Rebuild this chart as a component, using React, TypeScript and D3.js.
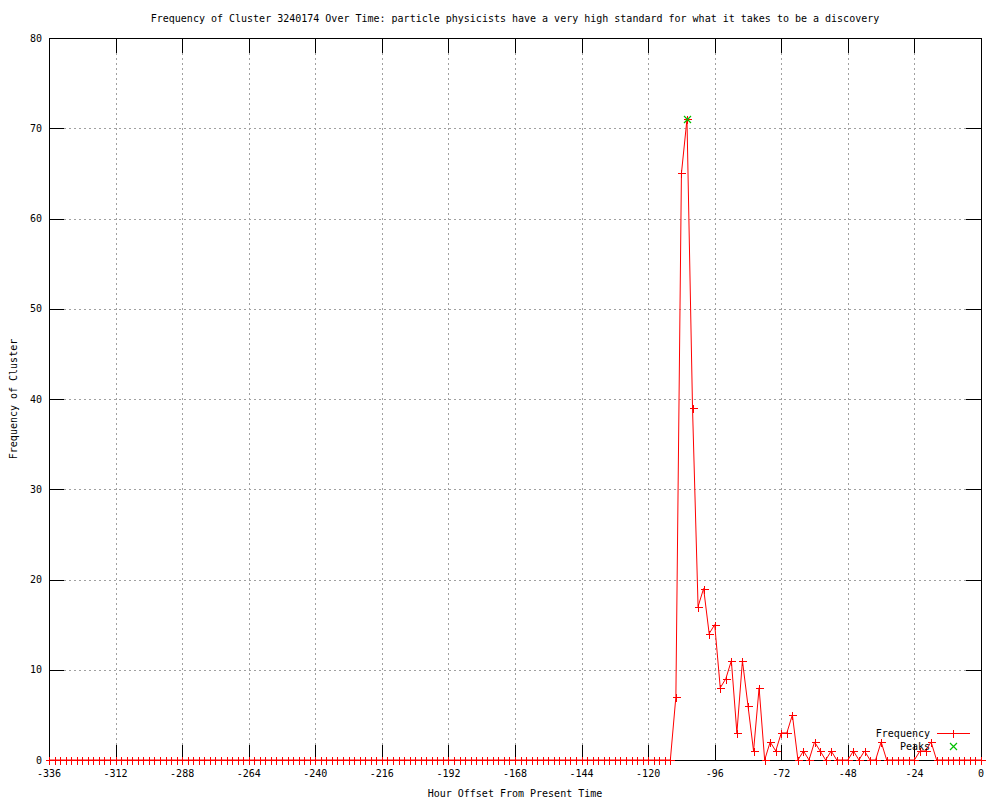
import React, { useEffect, useRef } from 'react';
import * as d3 from 'd3';

// hour offsets, one point every 2 hours from -336 to 0
const hours: number[] = d3.range(-336, 1, 2);

// frequency per point
const frequency: number[] = [
  0, 0, 0, 0, 0, 0, 0, 0, 0, 0, 0, 0, 0, 0, 0, 0, 0, 0, 0, 0, // -336 .. -298
  0, 0, 0, 0, 0, 0, 0, 0, 0, 0, 0, 0, 0, 0, 0, 0, 0, 0, 0, 0, // -296 .. -258
  0, 0, 0, 0, 0, 0, 0, 0, 0, 0, 0, 0, 0, 0, 0, 0, 0, 0, 0, 0, // -256 .. -218
  0, 0, 0, 0, 0, 0, 0, 0, 0, 0, 0, 0, 0, 0, 0, 0, 0, 0, 0, 0, // -216 .. -178
  0, 0, 0, 0, 0, 0, 0, 0, 0, 0, 0, 0, 0, 0, 0, 0, 0, 0, 0, 0, // -176 .. -138
  0, 0, 0, 0, 0, 0, 0, 0, 0, 0, 0, 0, 0,                      // -136 .. -112
  7, 65, 71, 39, 17, 19, 14, 15, 8, 9,                         // -110 .. -92
  11, 3, 11, 6, 1, 8, 0, 2, 1, 3,                              // -90 .. -72
  3, 5, 0, 1, 0, 2, 1, 0, 1, 0,                                // -70 .. -52
  0, 0, 1, 0, 1, 0, 0, 2, 0, 0,                                // -50 .. -32
  0, 0, 0, 0, 1, 1, 2, 0, 0, 0,                                // -30 .. -12
  0, 0, 0, 0, 0, 0,                                            // -10 .. 0
];

const peakHours: number[] = [-106];
const peakValues: number[] = [71];

const xTicks: number[] = [-336, -312, -288, -264, -240, -216, -192, -168, -144, -120, -96, -72, -48, -24, 0];
const yTicks: number[] = [0, 10, 20, 30, 40, 50, 60, 70, 80];

const TITLE = 'Frequency of Cluster 3240174 Over Time: particle physicists have a very high standard for what it takes to be a discovery';

const App = () => {
  const svgRef = useRef<SVGSVGElement | null>(null);
  const width = 1000;
  const height = 800;
  const left = 49;
  const right = 981;
  const top = 38;
  const bottom = 760;
  const FONT = '"DejaVu Sans Mono", monospace';
  const TICK = 15;
  const RED = '#ff0000';
  const GREEN = '#00c000';

  useEffect(() => {
    if (!svgRef.current) return;
    const svg = d3.select(svgRef.current);
    svg.selectAll('*').remove();
    svg.attr('width', width).attr('height', height);

    svg.append('rect').attr('width', width).attr('height', height).attr('fill', '#fff');

    const x = d3.scaleLinear().domain([-336, 0]).range([left, right]);
    const y = d3.scaleLinear().domain([0, 80]).range([bottom, top]);

    // 网格
    xTicks.slice(1, -1).forEach(t => {
      const px = Math.round(x(t)) + 0.5;
      svg.append('line')
        .attr('x1', px).attr('x2', px)
        .attr('y1', top + TICK).attr('y2', bottom - TICK)
        .attr('stroke', '#a0a0a0').attr('stroke-dasharray', '2,3');
    });
    yTicks.slice(1, -1).forEach(t => {
      const py = Math.round(y(t)) + 0.5;
      svg.append('line')
        .attr('x1', left + TICK).attr('x2', right - TICK)
        .attr('y1', py).attr('y2', py)
        .attr('stroke', '#a0a0a0').attr('stroke-dasharray', '2,3');
    });

    // 刻度
    xTicks.forEach(t => {
      const px = Math.round(x(t)) + 0.5;
      svg.append('line').attr('x1', px).attr('x2', px).attr('y1', bottom).attr('y2', bottom - TICK).attr('stroke', '#000');
      svg.append('line').attr('x1', px).attr('x2', px).attr('y1', top).attr('y2', top + TICK).attr('stroke', '#000');
      svg.append('text')
        .attr('x', x(t)).attr('y', bottom + 13)
        .attr('text-anchor', 'middle').attr('dominant-baseline', 'central')
        .attr('font-family', FONT).attr('font-size', '10px').attr('fill', '#000')
        .text(String(t));
    });
    yTicks.forEach(t => {
      const py = Math.round(y(t)) + 0.5;
      svg.append('line').attr('x1', left).attr('x2', left + TICK).attr('y1', py).attr('y2', py).attr('stroke', '#000');
      svg.append('line').attr('x1', right).attr('x2', right - TICK).attr('y1', py).attr('y2', py).attr('stroke', '#000');
      svg.append('text')
        .attr('x', left - 7).attr('y', y(t))
        .attr('text-anchor', 'end').attr('dominant-baseline', 'central')
        .attr('font-family', FONT).attr('font-size', '10px').attr('fill', '#000')
        .text(String(t));
    });

    // 边框
    svg.append('rect')
      .attr('x', left + 0.5).attr('y', top + 0.5)
      .attr('width', right - left).attr('height', bottom - top)
      .attr('fill', 'none').attr('stroke', '#000');

    // 标题和轴标签
    svg.append('text')
      .attr('x', (left + right) / 2).attr('y', 18)
      .attr('text-anchor', 'middle').attr('dominant-baseline', 'central')
      .attr('font-family', FONT).attr('font-size', '10px').attr('fill', '#000')
      .text(TITLE);
    svg.append('text')
      .attr('x', (left + right) / 2).attr('y', 793)
      .attr('text-anchor', 'middle').attr('dominant-baseline', 'central')
      .attr('font-family', FONT).attr('font-size', '10px').attr('fill', '#000')
      .text('Hour Offset From Present Time');
    svg.append('text')
      .attr('transform', `translate(13, ${(top + bottom) / 2}) rotate(-90)`)
      .attr('text-anchor', 'middle').attr('dominant-baseline', 'central')
      .attr('font-family', FONT).attr('font-size', '10px').attr('fill', '#000')
      .text('Frequency of Cluster');

    // 折线
    const line = d3.line<number>()
      .x((d, i) => x(hours[i]))
      .y(d => y(d));
    svg.append('path')
      .datum(frequency)
      .attr('d', line)
      .attr('fill', 'none')
      .attr('stroke', RED)
      .attr('stroke-width', 1);

    const plus = (g: any, cx: number, cy: number, color: string) => {
      g.append('path')
        .attr('d', `M${cx - 4},${cy}H${cx + 4}M${cx},${cy - 4}V${cy + 4}`)
        .attr('stroke', color).attr('stroke-width', 1).attr('fill', 'none')
        .attr('shape-rendering', 'crispEdges');
    };
    const cross = (g: any, cx: number, cy: number, color: string) => {
      g.append('path')
        .attr('d', `M${cx - 3.5},${cy - 3.5}L${cx + 3.5},${cy + 3.5}M${cx - 3.5},${cy + 3.5}L${cx + 3.5},${cy - 3.5}`)
        .attr('stroke', color).attr('stroke-width', 1.2).attr('fill', 'none');
    };

    frequency.forEach((v, i) => {
      plus(svg, Math.round(x(hours[i])) + 0.5, Math.round(y(v)) + 0.5, RED);
    });

    // 峰值
    peakHours.forEach((h, i) => {
      cross(svg, Math.round(x(h)) + 0.5, Math.round(y(peakValues[i])) + 0.5, GREEN);
    });

    // 图例
    svg.append('text')
      .attr('x', 930).attr('y', 733)
      .attr('text-anchor', 'end').attr('dominant-baseline', 'central')
      .attr('font-family', FONT).attr('font-size', '10px').attr('fill', '#000')
      .text('Frequency');
    svg.append('line')
      .attr('x1', 937).attr('x2', 970).attr('y1', 733.5).attr('y2', 733.5)
      .attr('stroke', RED).attr('shape-rendering', 'crispEdges');
    plus(svg, 953.5, 733.5, RED);
    svg.append('text')
      .attr('x', 930).attr('y', 746)
      .attr('text-anchor', 'end').attr('dominant-baseline', 'central')
      .attr('font-family', FONT).attr('font-size', '10px').attr('fill', '#000')
      .text('Peaks');
    cross(svg, 953.5, 746.5, GREEN);
  }, []);

  return (
    <div style={{ position: 'absolute', left: 0, top: 0, width: '1000px', height: '800px', background: '#fff' }}>
      <svg ref={svgRef} style={{ display: 'block' }}></svg>
    </div>
  );
};

export default App;
